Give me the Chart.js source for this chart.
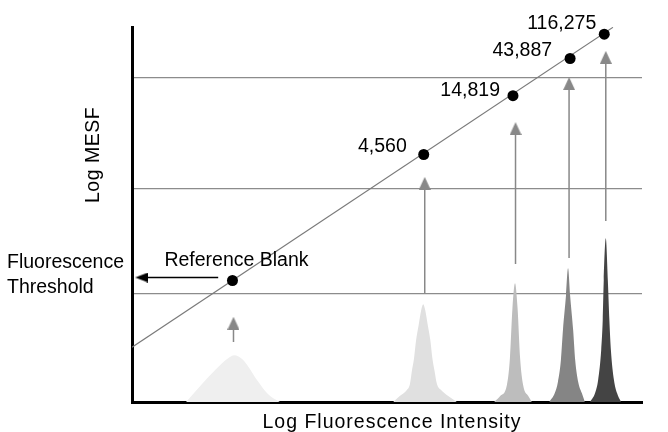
<!DOCTYPE html>
<html>
<head>
<meta charset="utf-8">
<script src="https://cdn.jsdelivr.net/npm/chart.js@4.4.0/dist/chart.umd.min.js"></script>
<style>
  html, body { margin: 0; padding: 0; background: #fff; }
  #wrap { width: 668px; height: 432px; }
</style>
</head>
<body>
<div id="wrap"><canvas id="chart"></canvas></div>
<script>
// chart units: x = log fluorescence intensity (0..100), y = log MESF (0..100)
const gridLevels = [29.0, 57.0, 86.5];

// calibration line
const lineX = [0, 94.3];
const lineY = [14.6, 99.9];

// bead populations
const beadLabels = ['Reference Blank', '4,560', '14,819', '43,887', '116,275'];
const beadX = [19.7, 57.2, 74.7, 85.9, 92.6];
const beadY = [32.4, 66.0, 81.7, 91.6, 98.1];

// arrows from the peaks up to the line
const arrowX = [19.9, 57.4, 75.2, 85.7, 92.9];
const arrowFrom = [16.0, 29.0, 36.8, 38.4, 48.3];
const arrowTo = [21.0, 58.3, 72.9, 84.9, 91.9];

// threshold arrow (blank -> y axis)
const threshY = 33.2;
const threshX = [16.9, 1.9];

// histogram peaks
const peakColors = ['#efefef', '#e0e0e0', '#bdbdbd', '#858585', '#444444'];
const peakX = [
  [10.6, 13.9, 17.3, 19.2, 20.0, 21.8, 24.5, 26.7, 29.0],
  [51.2, 52.5, 53.9, 54.5, 54.9, 55.3, 55.7, 56.2, 56.7, 57.1, 57.5, 58.0, 58.5, 58.9, 59.3, 59.8, 60.6, 62.0, 63.7],
  [71.0, 72.2, 73.5, 74.1, 74.6, 75.1, 75.6, 76.1, 76.7, 77.7, 78.4],
  [81.8, 82.9, 83.5, 84.1, 84.5, 85.1, 85.5, 85.9, 86.5, 86.9, 87.5, 88.2, 88.8],
  [89.8, 90.8, 91.4, 92.0, 92.3, 92.5, 92.9, 93.3, 93.6, 93.9, 94.5, 95.1, 95.9]
];
const peakY = [
  [0, 5.1, 9.9, 12.0, 12.5, 11.2, 5.9, 2.1, 0],
  [0, 1.6, 3.2, 4.8, 8.5, 11.7, 16.5, 20.5, 24.5, 26.1, 24.5, 20.5, 16.5, 11.7, 8.5, 4.8, 3.2, 1.6, 0],
  [0, 1.6, 4.5, 11.7, 25.1, 31.7, 25.1, 11.7, 4.5, 1.6, 0],
  [0, 2.4, 5.3, 11.2, 19.2, 28.5, 35.7, 28.5, 19.2, 11.2, 5.3, 2.4, 0],
  [0, 2.4, 5.9, 13.9, 21.9, 32.5, 43.7, 32.5, 21.9, 13.9, 5.9, 2.4, 0]
];

const FONT = '19.5px "Liberation Sans", Arial, sans-serif';

function makeHead(w, h, color) {
  const c = document.createElement('canvas');
  c.width = w;
  c.height = h;
  const g = c.getContext('2d');
  g.fillStyle = color;
  g.beginPath();
  g.moveTo(w / 2, 0);
  g.lineTo(w, h);
  g.lineTo(0, h);
  g.closePath();
  g.fill();
  return c;
}
const grayHead = makeHead(12, 13, '#888888');
const blackHead = makeHead(10, 13, '#000000');

const datasets = [];

// black dots
datasets.push({
  data: beadX.map((x, i) => ({ x, y: beadY[i] })),
  showLine: false,
  pointRadius: 5.5,
  pointBackgroundColor: '#000',
  pointBorderWidth: 0,
  order: 0
});

// line
datasets.push({
  data: lineX.map((x, i) => ({ x, y: lineY[i] })),
  borderColor: '#7a7a7a',
  borderWidth: 1.2,
  pointRadius: 0,
  order: 1
});

// gray arrows
arrowX.forEach(function (x, i) {
  datasets.push({
    data: [{ x, y: arrowFrom[i] }, { x, y: arrowTo[i] }],
    borderColor: '#888888',
    borderWidth: 1.5,
    pointRadius: [0, 6],
    pointStyle: grayHead,
    order: 2
  });
});

// threshold arrow
datasets.push({
  data: threshX.map(x => ({ x, y: threshY })),
  borderColor: '#000',
  borderWidth: 1.5,
  pointRadius: [0, 6],
  pointStyle: blackHead,
  pointRotation: -90,
  order: 2
});

// peaks
peakX.forEach(function (xs, i) {
  datasets.push({
    data: xs.map((x, j) => ({ x, y: peakY[i][j] })),
    borderWidth: 0,
    borderColor: peakColors[i],
    backgroundColor: peakColors[i],
    fill: 'origin',
    pointRadius: 0,
    cubicInterpolationMode: 'monotone',
    order: 3
  });
});

const textPlugin = {
  id: 'texts',
  afterDraw(chart) {
    const ctx = chart.ctx;
    const pts = chart.getDatasetMeta(0).data;
    ctx.save();
    ctx.fillStyle = '#000';
    ctx.font = FONT;
    ctx.textBaseline = 'alphabetic';

    // bead labels
    ctx.textAlign = 'center';
    ctx.fillText(beadLabels[0], pts[0].x + 4, pts[0].y - 15);
    const offs = [null, [-17, -3], [-13, 0], [-18, -3], [-8, -5]];
    ctx.textAlign = 'right';
    for (let i = 1; i < pts.length; i++) {
      ctx.fillText(beadLabels[i], pts[i].x + offs[i][0], pts[i].y + offs[i][1]);
    }

    // threshold text
    ctx.textAlign = 'left';
    ctx.fillText('Fluorescence', 7, 268);
    ctx.fillText('Threshold', 7, 293);

    // axis titles
    ctx.textAlign = 'center';
    ctx.letterSpacing = '1px';
    ctx.fillText('Log Fluorescence Intensity', 392, 428);
    ctx.translate(99, 155);
    ctx.rotate(-Math.PI / 2);
    ctx.letterSpacing = '0.5px';
    ctx.fillText('Log MESF', 0, 0);
    ctx.restore();
  }
};

new Chart(document.getElementById('chart'), {
  type: 'line',
  data: { datasets },
  options: {
    responsive: true,
    maintainAspectRatio: false,
    animation: false,
    events: [],
    layout: { padding: { left: 132, top: 27, right: 26, bottom: 30 } },
    plugins: { legend: { display: false }, tooltip: { enabled: false } },
    scales: {
      x: {
        type: 'linear', min: 0, max: 100, z: 1,
        grid: { display: false, drawTicks: false, tickLength: 0 },
        border: { display: true, color: '#000', width: 3 },
        ticks: { display: false }
      },
      y: {
        type: 'linear', min: 0, max: 100,
        grid: { color: '#8c8c8c', lineWidth: 1.3, drawTicks: false, tickLength: 0 },
        border: { display: true, color: '#000', width: 3 },
        ticks: { display: false },
        afterBuildTicks: function (scale) {
          scale.ticks = gridLevels.map(v => ({ value: v }));
        }
      }
    }
  },
  plugins: [textPlugin]
});
</script>
</body>
</html>
